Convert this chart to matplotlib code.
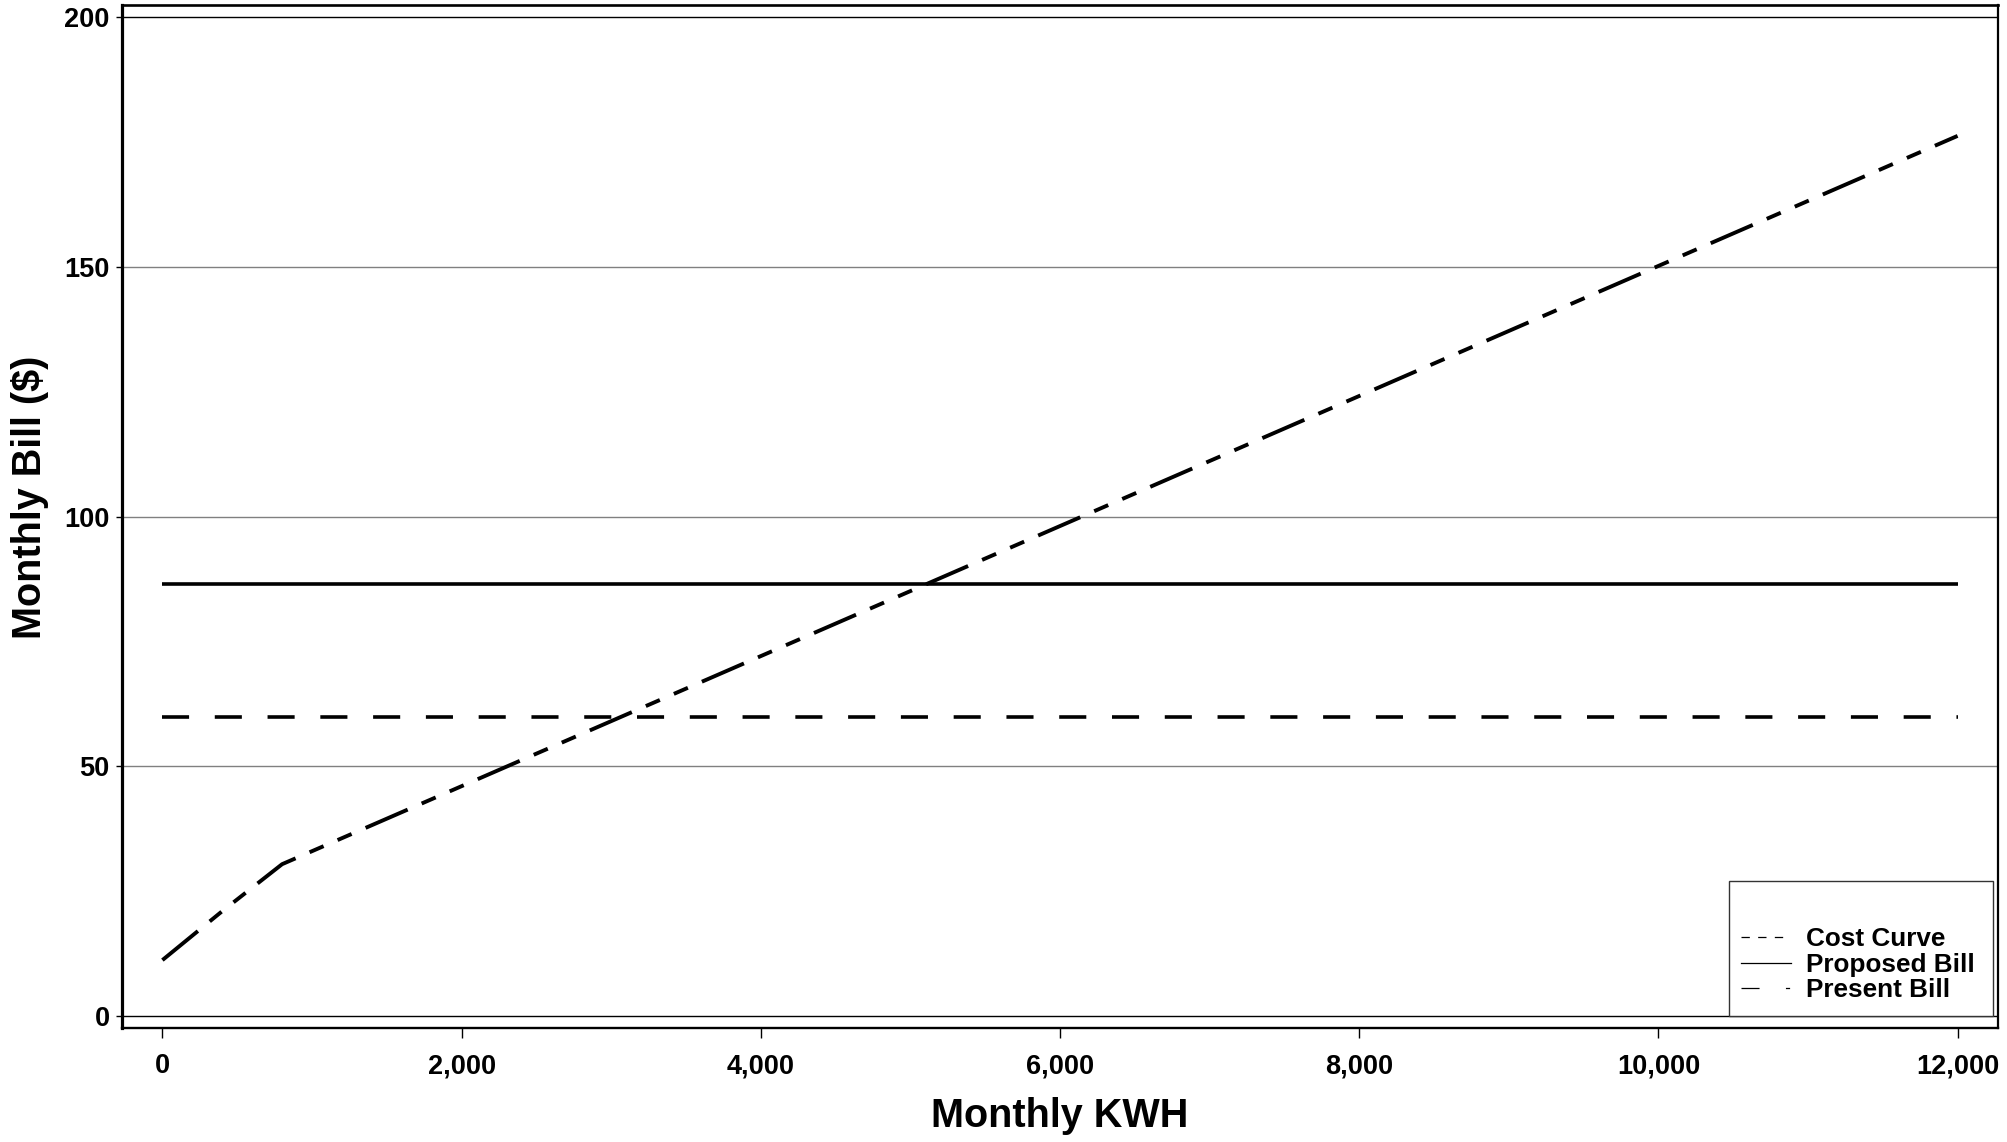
import numpy as np
from matplotlib import pyplot as plt
from matplotlib.lines import Line2D
from matplotlib.patches import Rectangle
from matplotlib.ticker import FuncFormatter

plt.rcParams['font.family'] = ['Liberation Sans', 'DejaVu Sans']
plt.rcParams['font.weight'] = 'bold'
plt.rcParams['lines.scale_dashes'] = False

# data
kwh_cost = [0, 12000]
cost_curve = [59.9, 59.9]

kwh_proposed = [0, 12000]
proposed_bill = [86.5, 86.5]

kwh_present = [0, 400, 800, 12000]
present_bill = [11.2, 21.0, 30.4, 176.2]

x_ticks = [0, 2000, 4000, 6000, 8000, 10000, 12000]
y_ticks = [0, 50, 100, 150, 200]

fig = plt.figure(figsize=(20.07, 11.42), dpi=100)
ax = fig.add_axes([0.0608, 0.0998, 0.9347, 0.8958])

# grid lines
for yv in y_ticks:
    col = 'black' if yv in (0, 200) else '#808080'
    ax.axhline(yv, color=col, linewidth=1.0, zorder=1)

ax.plot(kwh_cost, cost_curve, color='black', linewidth=2.6,
        dashes=(19.5, 18.5), dash_capstyle='butt', zorder=3)
ax.plot(kwh_proposed, proposed_bill, color='black', linewidth=2.6,
        solid_capstyle='butt', zorder=3)
ax.plot(kwh_present, present_bill, color='black', linewidth=2.8,
        dashes=(33, 11, 11, 11, 11, 11), dash_capstyle='butt', zorder=3)

ax.set_xlim(-270, 12270)
ax.set_ylim(-2.4, 202.4)
ax.set_xticks(x_ticks)
ax.set_yticks(y_ticks)
ax.xaxis.set_major_formatter(FuncFormatter(lambda v, p: f"{int(v):,}"))
ax.tick_params(axis='x', length=7, width=1, labelsize=19.5, pad=11)
ax.tick_params(axis='y', length=4, width=1, labelsize=19.5, pad=5)
for lbl in ax.get_xticklabels() + ax.get_yticklabels():
    lbl.set_fontweight('bold')

for side, lw in [('left', 2.3), ('bottom', 1.7), ('top', 1.9), ('right', 1.6)]:
    ax.spines[side].set_linewidth(lw)

# axis titles
fig.text(0.5 * (122 + 1998) / 2007, 1 - 1116 / 1142, 'Monthly KWH',
         fontsize=28.5, fontweight='bold', ha='center', va='center')
fig.text(30 / 2007, 1 - 497 / 1142, 'Monthly Bill ($)', rotation=90,
         fontsize=28.5, fontweight='bold', ha='center', va='center')

# legend box with empty top area
box = Rectangle((1729 / 2007, (1142 - 1016) / 1142), (1993 - 1729) / 2007,
                (1016 - 881) / 1142, transform=fig.transFigure,
                facecolor='white', edgecolor='#333333', linewidth=1.0, zorder=5)
fig.patches.append(box)

handles = [
    Line2D([], [], color='black', linewidth=0.9, dashes=(6, 6)),
    Line2D([], [], color='black', linewidth=0.9),
    Line2D([], [], color='black', linewidth=0.9, dashes=(13, 19, 3, 19)),
]
labels = ['Cost Curve', 'Proposed Bill', 'Present Bill']
leg = fig.legend(handles, labels, loc='lower left',
                 bbox_to_anchor=(1728 / 2007, (1142 - 1015) / 1142),
                 frameon=False, handlelength=1.9,
                 handletextpad=0.6, labelspacing=0.05, borderpad=0,
                 prop={'weight': 'bold', 'size': 18.8})
leg.set_zorder(6)

fig.savefig('out.png', dpi=100)
